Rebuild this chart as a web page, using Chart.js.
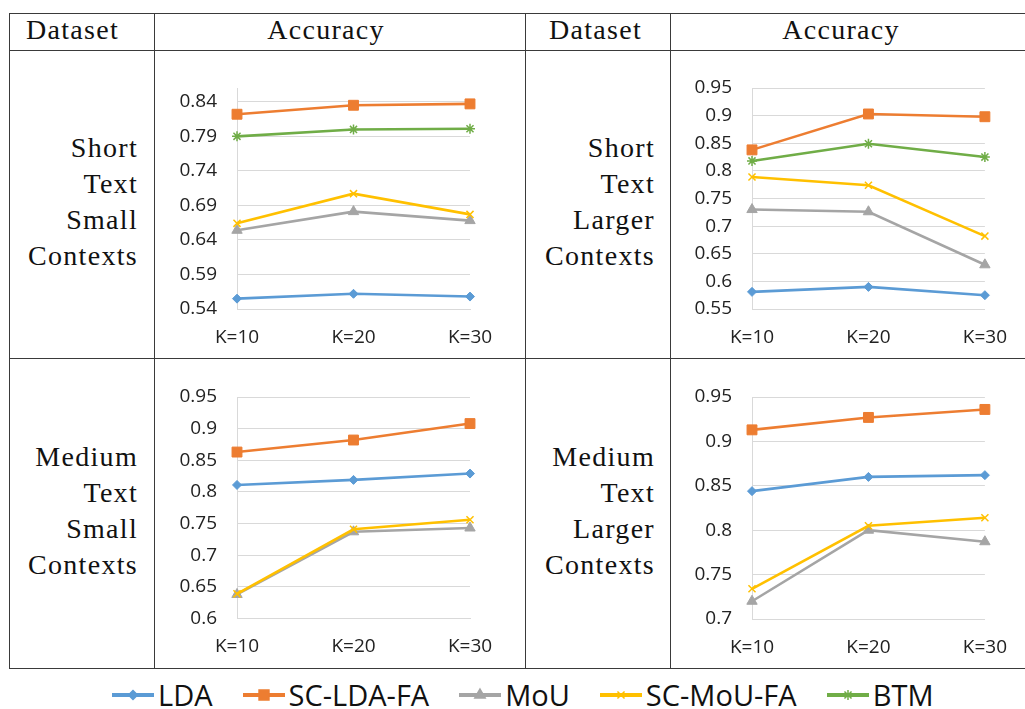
<!DOCTYPE html>
<html>
<head>
<meta charset="utf-8">
<script src="https://cdn.jsdelivr.net/npm/chart.js@4.4.0/dist/chart.umd.min.js"></script>
<style>
    body { margin: 0; background: #fff; width: 1025px; height: 709px; overflow: hidden; position: relative; font-family: "Liberation Serif", serif; }
    .hl { position: absolute; left: 9px; width: 1016px; height: 0; border-top: 1.5px solid #3a3a3a; }
    .vl { position: absolute; top: 13px; height: 655px; width: 0; border-left: 1.5px solid #3a3a3a; }
    .txt { position: absolute; font-size: 28px; letter-spacing: 1.3px; line-height: 37px; color: #111; white-space: nowrap; }
    .lab { position: absolute; font-size: 28px; letter-spacing: 1.3px; line-height: 36px; text-align: right; color: #111; white-space: nowrap; }
    .box { position: absolute; }
    #legend { position: absolute; left: 112px; top: 675px; display: flex; align-items: center; gap: 30px; font-family: "Open Sans", sans-serif; font-size: 29px; color: #111; }
    #legend .item { display: flex; align-items: center; gap: 4px; }
</style>
</head>
<body>

<!-- table rules -->
<div class="hl" style="top:13px"></div>
<div class="hl" style="top:50px"></div>
<div class="hl" style="top:358px"></div>
<div class="hl" style="top:668px"></div>
<div class="vl" style="left:9px"></div>
<div class="vl" style="left:154px"></div>
<div class="vl" style="left:525px"></div>
<div class="vl" style="left:670px"></div>

<!-- header -->
<div class="txt" style="left:26px;top:11px">Dataset</div>
<div class="txt" style="left:326px;top:11px;transform:translateX(-50%)">Accuracy</div>
<div class="txt" style="left:549px;top:11px">Dataset</div>
<div class="txt" style="left:841px;top:11px;transform:translateX(-50%)">Accuracy</div>

<!-- row labels -->
<div class="lab" style="right:887px;top:130px">Short<br>Text<br>Small<br>Contexts</div>
<div class="lab" style="right:370px;top:130px">Short<br>Text<br>Larger<br>Contexts</div>
<div class="lab" style="right:887px;top:439px">Medium<br>Text<br>Small<br>Contexts</div>
<div class="lab" style="right:370px;top:439px">Medium<br>Text<br>Larger<br>Contexts</div>

<div class="box" style="left:156px;top:52px;width:368px;height:305px"><canvas id="c1"></canvas></div>
<div class="box" style="left:671px;top:52px;width:353px;height:305px"><canvas id="c2"></canvas></div>
<div class="box" style="left:156px;top:360px;width:368px;height:307px"><canvas id="c3"></canvas></div>
<div class="box" style="left:671px;top:360px;width:353px;height:307px"><canvas id="c4"></canvas></div>

<div id="legend"></div>

<script>
// categories and series
const kLabels = ['K=10', 'K=20', 'K=30'];
const seriesNames = ['LDA', 'SC-LDA-FA', 'MoU', 'SC-MoU-FA', 'BTM'];
const seriesColors = ['#5B9BD5', '#ED7D31', '#A5A5A5', '#FFC000', '#70AD47'];
const pointStyles = ['rectRot', 'rect', 'triangle', 'crossRot', 'star'];
const pointRadii = [4.5, 7, 6, 5, 5];

// Short Text, Small Contexts
const shortSmallLDA = [0.555, 0.562, 0.558];
const shortSmallSCLDA = [0.822, 0.835, 0.837];
const shortSmallMoU = [0.654, 0.681, 0.668];
const shortSmallSCMoU = [0.664, 0.707, 0.677];
const shortSmallBTM = [0.790, 0.800, 0.801];
const shortSmallTicks = [0.54, 0.59, 0.64, 0.69, 0.74, 0.79, 0.84];

// Short Text, Larger Contexts
const shortLargerLDA = [0.581, 0.590, 0.575];
const shortLargerSCLDA = [0.838, 0.903, 0.898];
const shortLargerMoU = [0.730, 0.726, 0.630];
const shortLargerSCMoU = [0.789, 0.774, 0.682];
const shortLargerBTM = [0.818, 0.849, 0.825];
const shortLargerTicks = [0.55, 0.6, 0.65, 0.7, 0.75, 0.8, 0.85, 0.9, 0.95];

// Medium Text, Small Contexts (no BTM)
const mediumSmallLDA = [0.811, 0.819, 0.829];
const mediumSmallSCLDA = [0.863, 0.882, 0.908];
const mediumSmallMoU = [0.638, 0.737, 0.743];
const mediumSmallSCMoU = [0.639, 0.741, 0.756];
const mediumSmallTicks = [0.6, 0.65, 0.7, 0.75, 0.8, 0.85, 0.9, 0.95];

// Medium Text, Larger Contexts (no BTM)
const mediumLargerLDA = [0.844, 0.860, 0.862];
const mediumLargerSCLDA = [0.913, 0.927, 0.936];
const mediumLargerMoU = [0.720, 0.800, 0.787];
const mediumLargerSCMoU = [0.734, 0.805, 0.814];
const mediumLargerTicks = [0.7, 0.75, 0.8, 0.85, 0.9, 0.95];

const tickFont = { family: 'Open Sans', size: 19 };

function makeChart(id, series, ticks, min, max, pad) {
    const datasets = [];
    series.forEach((values, i) => {
        if (!values) return;
        datasets.push({
            label: seriesNames[i],
            data: values,
            borderColor: seriesColors[i],
            backgroundColor: seriesColors[i],
            borderWidth: 2.6,
            pointStyle: pointStyles[i],
            pointRadius: pointRadii[i],
            pointBorderWidth: (i >= 3) ? 1.5 : 1,
            pointBorderColor: seriesColors[i],
            pointBackgroundColor: seriesColors[i],
            tension: 0,
            clip: false,
            order: series.length - i
        });
    });

    return new Chart(document.getElementById(id), {
        type: 'line',
        data: { labels: kLabels, datasets: datasets },
        options: {
            responsive: true,
            maintainAspectRatio: false,
            animation: false,
            layout: { padding: { top: pad.top, right: pad.right, left: 0, bottom: 0 } },
            plugins: { legend: { display: false }, tooltip: { enabled: false } },
            scales: {
                x: {
                    offset: false,
                    grid: { display: false, drawTicks: false },
                    border: { display: true, color: '#d9d9d9', width: 1 },
                    ticks: { font: tickFont, color: '#222', padding: 17, autoSkip: false, maxRotation: 0 },
                    afterFit: (scale) => { scale.height = pad.xh; }
                },
                y: {
                    min: min,
                    max: max,
                    grid: { color: '#d9d9d9', lineWidth: 1, drawTicks: false },
                    border: { display: true, color: '#d9d9d9', width: 1 },
                    ticks: {
                        font: tickFont, color: '#222', padding: 20,
                        callback: (v) => String(parseFloat(Number(v).toFixed(2)))
                    },
                    afterBuildTicks: (scale) => { scale.ticks = ticks.map(v => ({ value: v })); },
                    afterFit: (scale) => { scale.width = 81; }
                }
            }
        }
    });
}

makeChart('c1', [shortSmallLDA, shortSmallSCLDA, shortSmallMoU, shortSmallSCMoU, shortSmallBTM],
    shortSmallTicks, 0.54, 0.86, { top: 36, right: 54, xh: 48 });
makeChart('c2', [shortLargerLDA, shortLargerSCLDA, shortLargerMoU, shortLargerSCMoU, shortLargerBTM],
    shortLargerTicks, 0.55, 0.95, { top: 36, right: 39, xh: 48 });
makeChart('c3', [mediumSmallLDA, mediumSmallSCLDA, mediumSmallMoU, mediumSmallSCMoU, null],
    mediumSmallTicks, 0.6, 0.95, { top: 37, right: 54, xh: 48.5 });
makeChart('c4', [mediumLargerLDA, mediumLargerSCLDA, mediumLargerMoU, mediumLargerSCMoU, null],
    mediumLargerTicks, 0.7, 0.95, { top: 37, right: 39, xh: 48 });

// legend (line + marker, then name)
const legend = document.getElementById('legend');
seriesNames.forEach((name, i) => {
    const item = document.createElement('div');
    item.className = 'item';
    const icon = document.createElement('canvas');
    icon.width = 42;
    icon.height = 20;
    const ctx = icon.getContext('2d');
    ctx.strokeStyle = seriesColors[i];
    ctx.fillStyle = seriesColors[i];
    ctx.lineWidth = 4;
    ctx.beginPath();
    ctx.moveTo(0, 10);
    ctx.lineTo(42, 10);
    ctx.stroke();
    ctx.lineWidth = 1.5;
    if (Chart.helpers && Chart.helpers.drawPoint) {
        Chart.helpers.drawPoint(ctx, { pointStyle: pointStyles[i], radius: pointRadii[i], borderWidth: 1.5, rotation: 0 }, 21, 10);
    }
    const label = document.createElement('span');
    label.textContent = name;
    item.appendChild(icon);
    item.appendChild(label);
    legend.appendChild(item);
});
</script>
</body>
</html>
